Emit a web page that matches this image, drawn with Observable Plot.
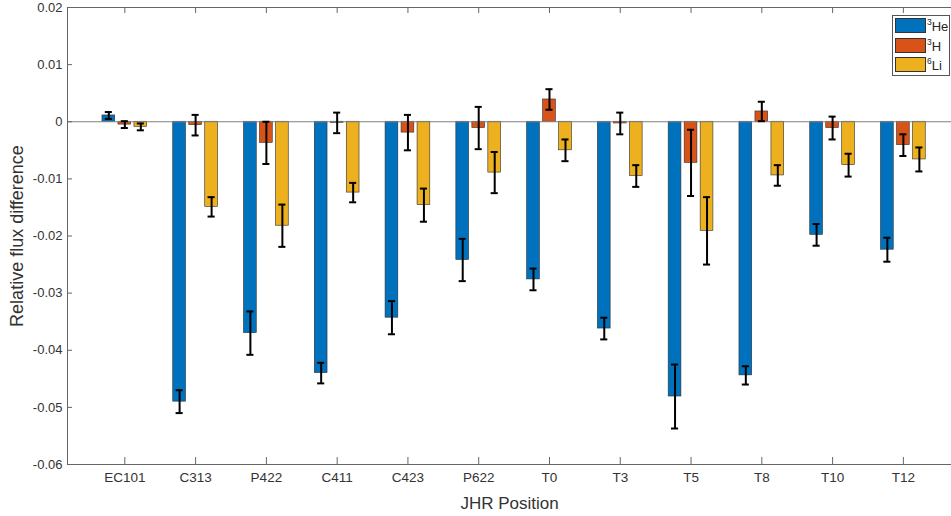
<!DOCTYPE html>
<html><head><meta charset="utf-8">
<script src="https://cdn.jsdelivr.net/npm/d3@7"></script>
<script src="https://cdn.jsdelivr.net/npm/@observablehq/plot@0.6"></script>
<style>
body{margin:0;background:#fff;font-family:"Liberation Sans",Arial,sans-serif;}
#wrap{position:relative;width:951px;height:516px;overflow:hidden;}
.legend{position:absolute;left:892px;top:15px;width:58px;height:61px;border:1px solid #555;background:#fff;box-sizing:border-box;}
.item{position:absolute;left:2px;height:15px;display:flex;align-items:center;}
.sw{width:31px;height:15px;border:1px solid #333;box-sizing:border-box;}
.lab{font-size:13px;color:#262626;margin-left:1px;line-height:15px;position:relative;top:2px;}
.lab sup{font-size:8.5px;vertical-align:0;position:relative;top:-6px;}
</style></head><body><div id="wrap"></div>
<script>
const positions = ["EC101","C313","P422","C411","C423","P622","T0","T3","T5","T8","T10","T12"];
const isotopeMass = ["3","3","6"];
const isotopeSym = ["He","H","Li"];
const seriesNames = ["3He","3H","6Li"];
const colors = ["#0072BD","#D95319","#EDB120"];

const he3    = [0.0011,-0.0490,-0.0370,-0.0440,-0.0343,-0.0242,-0.0276,-0.0362,-0.0481,-0.0444,-0.0198,-0.0224];
const he3Err = [0.0006, 0.0020, 0.0038, 0.0018, 0.0029, 0.0037, 0.0019, 0.0019, 0.0056, 0.0016, 0.0019, 0.0021];
const h3     = [-0.0005,-0.0006,-0.0037,-0.0002,-0.0019,-0.0011,0.0039,-0.0003,-0.0072,0.0018,-0.0011,-0.0041];
const h3Err  = [0.0006, 0.0018, 0.0037, 0.0018, 0.0031, 0.0037, 0.0018, 0.0019, 0.0058, 0.0017, 0.0020, 0.0019];
const li6    = [-0.0009,-0.0149,-0.0182,-0.0124,-0.0146,-0.0089,-0.0050,-0.0095,-0.0191,-0.0094,-0.0076,-0.0066];
const li6Err = [0.0006, 0.0017, 0.0037, 0.0017, 0.0029, 0.0036, 0.0019, 0.0019, 0.0059, 0.0018, 0.0020, 0.0021];

const yTicks = [0.02,0.01,0,-0.01,-0.02,-0.03,-0.04,-0.05,-0.06];
const xTicks = positions.map((p,i)=>i+1);

const groupOffset = 0.226, barWidth = 0.18, capHalf = 0.05;
const xDomain = [0.19, 12.68], yDomain = [-0.06, 0.02];

const seriesValues = [he3,h3,li6], seriesErrs = [he3Err,h3Err,li6Err];
const rows = [];
seriesValues.forEach((vals,k)=>vals.forEach((v,i)=>rows.push({
  x: i+1+(k-1)*groupOffset, v, e: seriesErrs[k][i], series: seriesNames[k]
})));

const fmt = d => d === 0 ? "0" : d.toFixed(2);
const axisColor = "#666";
const textColor = "#333";

const chart = Plot.plot({
  width: 951, height: 516,
  marginLeft: 67, marginRight: 0, marginTop: 7, marginBottom: 52,
  style: {fontFamily: "Liberation Sans, Arial, sans-serif", background: "#fff"},
  x: {type: "linear", domain: xDomain},
  y: {domain: yDomain},
  color: {domain: seriesNames, range: colors},
  marks: [
    Plot.rectY(rows, {x1: d=>d.x-barWidth/2, x2: d=>d.x+barWidth/2, y1: 0, y2: "v", fill: "series", stroke: "#2e2e2e", strokeWidth: 0.6}),
    Plot.ruleY([0], {stroke: "#808080", strokeWidth: 1}),
    Plot.ruleX(rows, {x: "x", y1: d=>d.v-d.e, y2: d=>d.v+d.e, stroke: "#000", strokeWidth: 2}),
    Plot.ruleY(rows, {y: d=>d.v-d.e, x1: d=>d.x-capHalf, x2: d=>d.x+capHalf, stroke: "#000", strokeWidth: 2}),
    Plot.ruleY(rows, {y: d=>d.v+d.e, x1: d=>d.x-capHalf, x2: d=>d.x+capHalf, stroke: "#000", strokeWidth: 2}),
    Plot.ruleX([xDomain[0]], {stroke: axisColor}),
    Plot.ruleY([yDomain[0], yDomain[1]], {stroke: axisColor}),
    Plot.axisY({ticks: yTicks, tickSize: -5, tickPadding: 10, tickFormat: fmt, fontSize: 13, stroke: axisColor, fill: textColor, label: null}),
    Plot.axisX({ticks: xTicks, tickSize: -7, tickPadding: 15, tickFormat: i => positions[i-1], fontSize: 13.5, stroke: axisColor, fill: textColor, label: null}),
    Plot.axisX({anchor: "top", ticks: xTicks, tickSize: -5, tickFormat: () => "", stroke: axisColor, label: null}),
    Plot.text(["Relative flux difference"], {frameAnchor: "left", dx: -50, rotate: -90, textAnchor: "middle", lineAnchor: "middle", fontSize: 18, fill: textColor}),
    Plot.text(["JHR Position"], {frameAnchor: "bottom", dy: 39, textAnchor: "middle", lineAnchor: "middle", fontSize: 17, fill: textColor})
  ]
});
const wrap = document.getElementById("wrap");
wrap.appendChild(chart);

const legend = document.createElement("div");
legend.className = "legend";
seriesNames.forEach((s,k)=>{
  const it = document.createElement("div");
  it.className = "item";
  it.style.top = (2 + k*19.7) + "px";
  const sw = document.createElement("span");
  sw.className = "sw"; sw.style.background = colors[k];
  const lab = document.createElement("span");
  lab.className = "lab";
  const sup = document.createElement("sup"); sup.textContent = isotopeMass[k];
  lab.appendChild(sup); lab.appendChild(document.createTextNode(isotopeSym[k]));
  it.appendChild(sw); it.appendChild(lab);
  legend.appendChild(it);
});
wrap.appendChild(legend);
</script></body></html>
